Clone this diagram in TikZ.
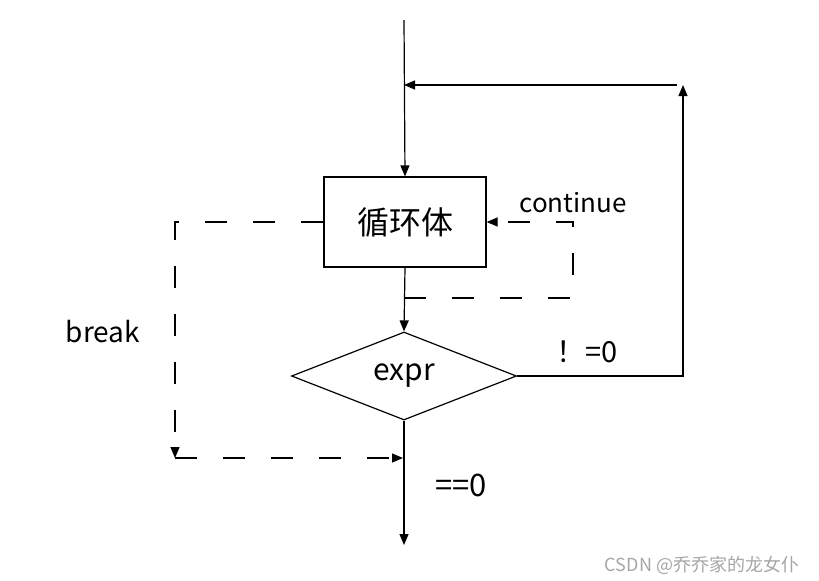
\documentclass[tikz,border=0pt]{standalone}
\usepackage{fontspec}
\setmainfont{Noto Sans CJK SC}
\usetikzlibrary{arrows.meta,shapes.geometric}

\begin{document}
\begin{tikzpicture}[x=0.5pt,y=-0.5pt,line width=0.6pt,font=\fontsize{13}{15}\selectfont,
 box/.style={draw,minimum width=81pt,minimum height=45pt,inner sep=0pt,font=\fontsize{16}{18}\selectfont},
 cond/.style={draw,diamond,minimum width=112.5pt,minimum height=44pt,inner sep=0pt,font=\fontsize{15}{17}\selectfont},
 arr/.style={-{Triangle[length=5.5pt,width=4.5pt]}},
 dashline/.style={dash pattern=on 11pt off 13pt}]
\useasboundingbox (0,0) rectangle (819,580);
\node[box] (body) at (405,222) {循环体};
\node[cond] (expr) at (404,376) {expr};
\coordinate (top) at (404,20);
\coordinate (merge) at (404,85);
\coordinate (rtop) at (683,85);
\coordinate (rbot) at (683,376);
\coordinate (out) at (404,545);
\coordinate (cont) at (404,298);
\coordinate (bend) at (175,458);
\coordinate (bhit) at (403,458);
\draw[arr] (top)--(body.north);
\draw[arr] (body.south)--(expr.north);
\draw[arr] (expr.east)--(rbot)--(rtop);
\draw[arr] ([xshift=-3pt]rtop)--(merge);
\draw[arr] (expr.south)--(out);
% break
\draw[arr,dashline] (body.west)-|(bend);
\draw[arr,dashline] (bend)--(bhit);
% continue
\draw[arr,dashline] (cont)--(573,298)--(573,222)--(body.east);
\node at (573,203) {continue};
\node[font=\fontsize{14}{16}\selectfont] at (103,332) {break};
\node[font=\fontsize{14.5}{16}\selectfont] at (587,352) {！=0};
\node[font=\fontsize{15.5}{17}\selectfont] at (461,485) {==0};
\node[text=black!35,font=\fontsize{9}{11}\selectfont] at (702,565) {CSDN @乔乔家的龙女仆};
\end{tikzpicture}
\end{document}
